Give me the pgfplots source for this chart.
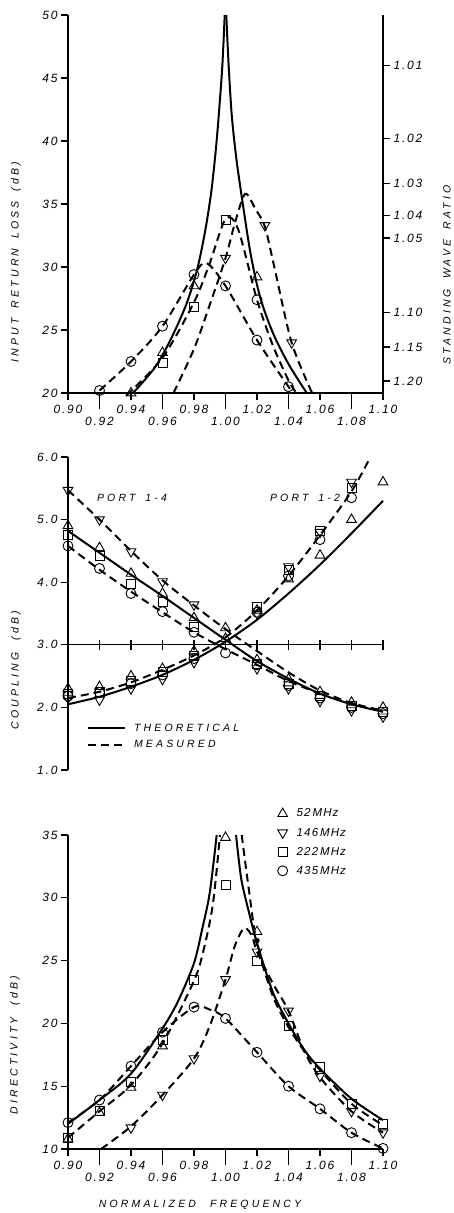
\documentclass[border=0pt]{standalone}
\usepackage{fontspec}
\setmainfont{Liberation Sans}
\newfontfamily\lettick{Liberation Sans}[LetterSpace=15]
\newfontfamily\lettitle{Liberation Sans}[LetterSpace=30]
\newfontfamily\letleg{Liberation Sans}[LetterSpace=10]
\usepackage{pgfplots}
\pgfplotsset{compat=1.18}
\newcommand\tickfont{\lettick\itshape\fontsize{12}{13}\selectfont}
\newcommand\titlefont{\lettitle\itshape\fontsize{10.5}{12}\selectfont}
\newcommand\wsp{\hspace{10pt}}
\pgfplotsset{
  base/.style={scale only axis, width=315pt, xmin=0.90, xmax=1.10,
    clip=false, axis line style={line width=1.2pt},
    tick style={line width=1.1pt, black}, tick align=outside,
    major tick length=7pt, tick label style={font=\tickfont},
    legend cell align=left},
  th/.style={black, line width=2pt},
  me/.style={black, line width=2pt, dash pattern=on 8pt off 5pt},
  mUp/.style={only marks, mark=triangle, mark size=5.6pt, mark options={solid, fill=white, line width=0.9pt}},
  mDn/.style={only marks, mark=triangle, mark size=5.6pt, mark options={solid, fill=white, line width=0.9pt, rotate=180}},
  mSq/.style={only marks, mark=square, mark size=4.5pt, mark options={solid, fill=white, line width=0.9pt}},
  mCi/.style={only marks, mark=o, mark size=5pt, mark options={solid, fill=white, line width=0.9pt}},
  xstag/.style={xtick={0.90,0.94,0.98,1.02,1.06,1.10},
    xticklabels={0.90,0.94,0.98,1.02,1.06,1.10},
    extra x ticks={0.92,0.96,1.00,1.04,1.08},
    extra x tick labels={0.92,0.96,1.00,1.04,1.08},
    extra x tick style={major tick length=16pt, tick label style={yshift=-3pt}},
    xticklabel style={yshift=-2pt}},
}
\begin{document}
\begin{tikzpicture}
\path[use as bounding box] (0pt,0pt) rectangle (454pt,-1213pt);

% ---------------- top panel: input return loss ----------------
\begin{axis}[base, xstag, at={(68pt,-15pt)}, anchor=north west, height=378pt,
  ymin=20, ymax=50, axis y line*=left, axis x line*=bottom,
  ytick={20,25,30,35,40,45,50}, yticklabels={20,25,30,35,40,45,50}]
\addplot[th, smooth] coordinates {(0.9413,20) (0.955,22.0) (0.965,24.2) (0.975,27.0) (0.982,29.8) (0.987,32.8) (0.991,36.0) (0.994,39.5) (0.996,42.5) (0.998,46.0) (0.9995,50)};
\addplot[th, smooth] coordinates {(1.0005,50) (1.002,46.0) (1.004,42.0) (1.007,38.5) (1.011,35.0) (1.016,31.0) (1.022,27.6) (1.030,24.8) (1.040,22.3) (1.0516,20)};
% measured
\addplot[me, smooth] coordinates {(0.92,20.2) (0.94,22.5) (0.96,25.3) (0.98,29.4) (0.988,30.3) (1.00,28.5) (1.02,24.2) (1.04,20.5) (1.043,20)};
\addplot[me, smooth] coordinates {(0.937,19.8) (0.96,22.8) (0.98,27.2) (0.99,30.3) (1.00,33.8) (1.008,33.0) (1.02,27.4) (1.03,23.8) (1.04,21.0) (1.045,20)};
\addplot[me, smooth] coordinates {(0.967,20) (0.98,23.5) (0.99,27.0) (1.00,30.7) (1.006,33.5) (1.0125,35.8) (1.019,34.6) (1.025,33.2) (1.031,30.0) (1.042,24.0) (1.055,20)};
\addplot[mUp] coordinates {(0.94,20.0) (0.96,23.2) (0.98,28.5) (1.02,29.2)};
\addplot[mDn] coordinates {(1.00,30.7) (1.025,33.3) (1.042,24.0)};
\addplot[mSq] coordinates {(0.96,22.4) (0.98,26.8) (1.00,33.7)};
\addplot[mCi] coordinates {(0.92,20.2) (0.94,22.5) (0.96,25.3) (0.98,29.4) (1.00,28.5) (1.02,27.4) (1.02,24.2) (1.04,20.5)};
\end{axis}
% SWR right axis
\begin{axis}[base, at={(68pt,-15pt)}, anchor=north west, height=378pt,
  ymin=20, ymax=50, axis y line*=right, axis x line=none,
  ytick={46.0,40.2,36.6,34.1,32.3,26.4,23.65,20.95},
  yticklabels={1.01,1.02,1.03,1.04,1.05,1.10,1.15,1.20}]
\addplot[draw=none, forget plot] coordinates {(1.0,30)};
\end{axis}

% ---------------- middle panel: coupling ----------------
\begin{axis}[base, at={(68pt,-457pt)}, anchor=north west, height=313pt,
  ymin=1, ymax=6, axis y line*=left, axis x line=none,
  ytick={1,2,3,4,5,6}, yticklabels={1.0,2.0,3.0,4.0,5.0,6.0},
  legend style={draw=none, fill=none, at={(axis description cs:0.06,0.155)}, anchor=north west,
    font=\titlefont, inner sep=0pt, row sep=4pt,
    /tikz/every odd column/.append style={column sep=6pt}},
  legend image code/.code={\draw[#1] (0pt,0pt) -- (37pt,0pt);}]
\addlegendimage{th}
\addlegendentry{THEORETICAL}
\addlegendimage{me}
\addlegendentry{MEASURED}
\draw[line width=1.2pt] (axis cs:0.90,3) -- (axis cs:1.10,3);
\pgfplotsinvokeforeach{0.92,0.94,0.96,0.98,1.00,1.02,1.04,1.06,1.08,1.10}{
  \draw[line width=1.1pt] (axis cs:#1,3) ++(0pt,-5pt) -- ++(0pt,10pt);}
% theoretical
\addplot[th, smooth, forget plot] coordinates {(0.90,4.82) (0.92,4.47) (0.94,4.12) (0.96,3.78) (0.98,3.43) (1.00,3.08) (1.02,2.74) (1.04,2.46) (1.06,2.22) (1.08,2.05) (1.10,1.93)};
\addplot[th, smooth, forget plot] coordinates {(0.90,2.05) (0.92,2.17) (0.94,2.33) (0.96,2.52) (0.98,2.76) (1.00,3.05) (1.02,3.40) (1.04,3.82) (1.06,4.28) (1.08,4.78) (1.10,5.30)};
% measured
\addplot[me, smooth, forget plot] coordinates {(0.90,5.47) (0.92,5.0) (0.94,4.5) (0.96,4.03) (0.98,3.63) (1.00,3.25) (1.02,2.90) (1.04,2.56) (1.06,2.27) (1.08,2.07) (1.10,1.95)};
\addplot[me, smooth, forget plot] coordinates {(0.90,4.58) (0.92,4.20) (0.94,3.85) (0.96,3.52) (0.98,3.20) (1.00,2.93) (1.02,2.68) (1.04,2.42) (1.06,2.22)};
\addplot[me, smooth, forget plot] coordinates {(0.90,2.15) (0.92,2.25) (0.94,2.40) (0.96,2.60) (0.98,2.83) (1.00,3.12) (1.02,3.55) (1.04,4.10) (1.06,4.75) (1.08,5.45) (1.092,6.0)};
% markers port 1-4
\addplot[mDn, forget plot] coordinates {(0.90,5.47) (0.92,5.0) (0.94,4.49) (0.96,4.01) (0.98,3.64) (1.02,2.62) (1.04,2.30) (1.06,2.10) (1.08,1.95) (1.10,1.85)};
\addplot[mUp, forget plot] coordinates {(0.90,4.90) (0.92,4.55) (0.94,4.14) (0.96,3.82) (0.98,3.43) (1.00,3.27) (1.02,2.76) (1.04,2.45) (1.06,2.25) (1.08,2.08) (1.10,2.00)};
\addplot[mSq, forget plot] coordinates {(0.90,4.76) (0.92,4.42) (0.94,3.98) (0.96,3.68) (0.98,3.28) (1.02,2.70) (1.04,2.38) (1.06,2.18) (1.08,2.02) (1.10,1.92)};
\addplot[mCi, forget plot] coordinates {(0.90,4.58) (0.92,4.22) (0.94,3.82) (0.96,3.53) (0.98,3.20) (1.00,2.87) (1.02,2.68) (1.04,2.35) (1.06,2.15) (1.08,2.00) (1.10,1.90)};
% markers port 1-2
\addplot[mUp, forget plot] coordinates {(0.90,2.30) (0.92,2.33) (0.94,2.50) (0.96,2.62) (0.98,2.90) (1.00,3.10) (1.02,3.55) (1.04,4.05) (1.06,4.43) (1.08,5.00) (1.10,5.60)};
\addplot[mDn, forget plot] coordinates {(0.90,2.15) (0.92,2.12) (0.94,2.30) (0.96,2.45) (0.98,2.72) (1.02,3.50) (1.04,4.25) (1.06,4.80) (1.08,5.60)};
\addplot[mSq, forget plot] coordinates {(0.90,2.22) (0.92,2.25) (0.94,2.42) (0.96,2.56) (0.98,2.82) (1.02,3.60) (1.04,4.20) (1.06,4.82) (1.08,5.50)};
\addplot[mCi, forget plot] coordinates {(0.90,2.18) (0.92,2.24) (0.94,2.38) (0.96,2.52) (0.98,2.78) (1.02,3.52) (1.04,4.10) (1.06,4.68) (1.08,5.35)};
\end{axis}

% ---------------- bottom panel: directivity ----------------
\begin{axis}[base, xstag, at={(68pt,-835pt)}, anchor=north west, height=314pt,
  ymin=10, ymax=35, axis y line*=left, axis x line*=bottom,
  ytick={10,15,20,25,30,35}, yticklabels={10,15,20,25,30,35},
  legend style={draw=none, fill=none, at={(axis description cs:0.665,1.09)}, anchor=north west,
    font=\letleg\itshape\fontsize{11.5}{12}\selectfont, inner sep=0pt, row sep=5.5pt,
    /tikz/every odd column/.append style={column sep=7pt}}]
\addlegendimage{mUp}
\addlegendentry{52\,MHz}
\addlegendimage{mDn}
\addlegendentry{146\,MHz}
\addlegendimage{mSq}
\addlegendentry{222\,MHz}
\addlegendimage{mCi}
\addlegendentry{435\,MHz}
% theoretical
\addplot[th, smooth, forget plot] coordinates {(0.90,12.0) (0.92,13.9) (0.94,16.0) (0.96,19.6) (0.97,21.8) (0.98,24.8) (0.985,27.4) (0.99,30.4) (0.9944,35)};
\addplot[th, smooth, forget plot] coordinates {(1.0067,35) (1.010,31.5) (1.015,28.8) (1.020,26.4) (1.030,22.5) (1.040,20.0) (1.050,17.9) (1.060,16.4) (1.080,14.0) (1.100,12.3)};
% measured
\addplot[me, smooth, forget plot] coordinates {(0.90,10.9) (0.92,13.0) (0.94,15.1) (0.96,18.4) (0.98,23.4) (0.986,25.8) (0.992,29.5) (0.9965,35)};
\addplot[me, smooth, forget plot] coordinates {(1.0103,35) (1.015,30.5) (1.020,26.3) (1.030,22.2) (1.040,19.7) (1.050,17.8) (1.060,16.3) (1.080,13.6) (1.100,11.9)};
\addplot[me, smooth, forget plot] coordinates {(0.921,10) (0.94,11.8) (0.96,14.3) (0.98,17.2) (0.99,19.8) (1.00,23.5) (1.006,26.2) (1.012,27.6) (1.017,26.9) (1.02,25.7) (1.03,23.2) (1.04,21.0) (1.05,17.8) (1.06,15.7) (1.08,13.0) (1.10,11.3)};
\addplot[me, smooth, forget plot] coordinates {(0.90,12.1) (0.92,13.9) (0.94,16.6) (0.96,19.3) (0.98,21.3) (0.99,21.1) (1.00,20.4) (1.02,17.7) (1.04,15.0) (1.06,13.2) (1.08,11.3) (1.10,10.05)};
% markers
\addplot[mUp, forget plot] coordinates {(0.90,10.8) (0.92,12.9) (0.94,14.9) (0.96,18.2) (1.00,34.8) (1.02,27.3)};
\addplot[mDn, forget plot] coordinates {(0.94,11.7) (0.96,14.3) (0.98,17.2) (1.00,23.5) (1.02,25.7) (1.04,21.0) (1.06,15.8) (1.08,13.0) (1.10,11.3)};
\addplot[mSq, forget plot] coordinates {(0.90,10.9) (0.92,13.0) (0.94,15.3) (0.96,18.7) (0.98,23.5) (1.00,31.0) (1.02,25.0) (1.04,19.8) (1.06,16.5) (1.08,13.6) (1.10,12.0)};
\addplot[mCi, forget plot] coordinates {(0.90,12.1) (0.92,13.9) (0.94,16.6) (0.96,19.3) (0.98,21.3) (1.00,20.4) (1.02,17.7) (1.04,15.0) (1.06,13.2) (1.08,11.3) (1.10,10.05)};
\addplot[only marks, mark=*, mark size=2.4pt, black, forget plot] coordinates {(1.02,26.6)};
\end{axis}

% axis titles and annotations
\node[rotate=90, font=\titlefont] at (16pt,-262pt) {INPUT\wsp RETURN\wsp LOSS\wsp (dB)};
\node[rotate=90, font=\titlefont] at (447pt,-275pt) {STANDING\wsp WAVE\wsp RATIO};
\node[rotate=90, font=\titlefont] at (16pt,-670pt) {COUPLING\hspace{12pt}(dB)};
\node[rotate=90, font=\titlefont] at (15pt,-1045pt) {DIRECTIVITY\hspace{12pt}(dB)};
\node[font=\titlefont] at (200pt,-1205pt) {NORMALIZED\hspace{14pt}FREQUENCY};
\node[font=\titlefont] at (132pt,-498pt) {PORT\wsp 1-4};
\node[font=\titlefont] at (305pt,-498pt) {PORT\wsp 1-2};
\end{tikzpicture}
\end{document}
